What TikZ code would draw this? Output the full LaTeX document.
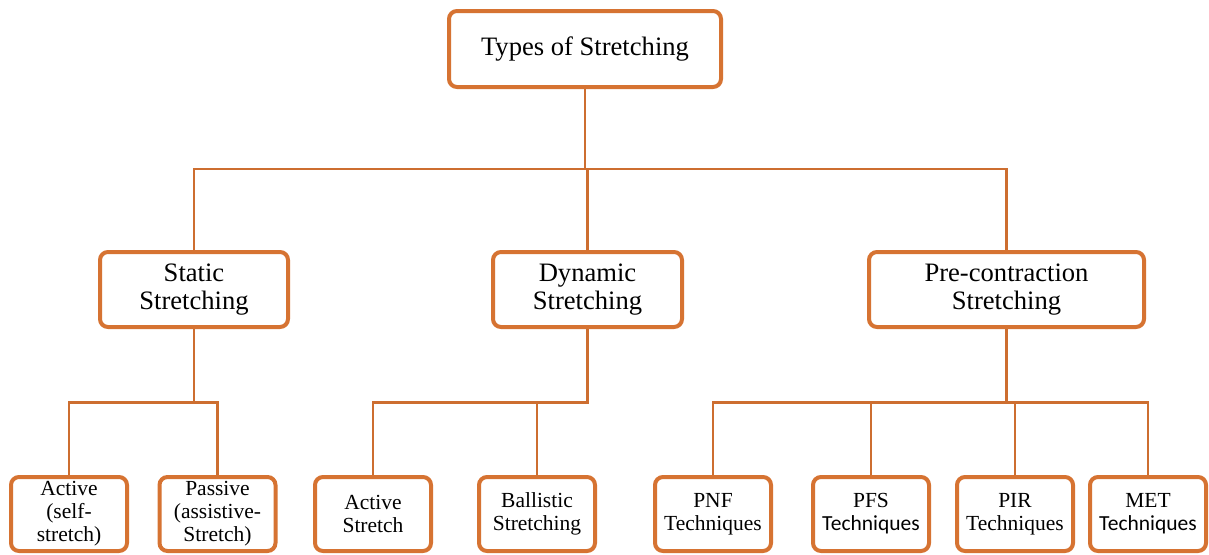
\documentclass[tikz,border=0pt]{standalone}
\usepackage{fontspec}
\setmainfont{Liberation Serif}
\newfontfamily\calib{Carlito}
\definecolor{boxorange}{RGB}{214,115,50}
\definecolor{lineorange}{RGB}{205,110,48}
\tikzset{
  box/.style={draw=boxorange, line width=4pt, rounded corners=8pt, fill=white,
    align=center, inner sep=0pt},
  bigbox/.style={box, font=\fontsize{26.6}{28}\selectfont},
  leafbox/.style={box, font=\fontsize{21.5}{23}\selectfont,
    minimum width=116pt, minimum height=74pt},
  link/.style={draw=lineorange, line width=2.8pt}
}
\begin{document}
\begin{tikzpicture}[x=1pt, y=-1pt]
\useasboundingbox (0,0) rectangle (1209,554);
\clip (0,0) rectangle (1209,554);

% root and first level
\node[bigbox, minimum width=272pt, minimum height=76pt] (root) at (585,49) {Types of Stretching};
\node[bigbox, minimum width=188pt, minimum height=75pt] (static) at (194,289.5) {Static\\Stretching};
\node[bigbox, minimum width=189pt, minimum height=75pt] (dynamic) at (587.5,289.5) {Dynamic\\Stretching};
\node[bigbox, minimum width=275pt, minimum height=75pt] (pre) at (1006.5,289.5) {Pre-contraction\\Stretching};

% leaves
\node[leafbox] (active) at (69,514) {Active\\(self-\\stretch)};
\node[leafbox] (passive) at (217.5,514) {Passive\\(assistive-\\Stretch)};
\node[leafbox] (astretch) at (373,514) {Active\\Stretch};
\node[leafbox] (ballistic) at (537,514) {Ballistic\\Stretching};
\node[leafbox] (pnf) at (713,514) {PNF\\Techniques};
\node[leafbox] (pfs) at (871,514) {PFS\\{\calib Techniques}};
\node[leafbox] (pir) at (1015,514) {PIR\\Techniques};
\node[leafbox] (met) at (1148,514) {MET\\{\calib Techniques}};

% bus levels
\coordinate (b1) at (585,169);
\coordinate (b2) at (0,402.5);

% root to first level
\draw[link] (root.south) -- (root.south |- b1);
\draw[link] (static.north) |- (pre.north |- b1) -- (pre.north);
\draw[link] (dynamic.north) -- (dynamic.north |- b1);

% static branch
\draw[link] (static.south) -- (static.south |- b2);
\draw[link] (active.north) |- (passive.north |- b2) -- (passive.north);

% dynamic branch
\draw[link] (astretch.north) |- (dynamic.south |- b2) -- (dynamic.south);
\draw[link] (ballistic.north) -- (ballistic.north |- b2);

% pre-contraction branch
\draw[link] (pnf.north) |- (met.north |- b2) -- (met.north);
\draw[link] (pre.south) -- (pre.south |- b2);
\draw[link] (pfs.north) -- (pfs.north |- b2);
\draw[link] (pir.north) -- (pir.north |- b2);
\end{tikzpicture}
\end{document}
